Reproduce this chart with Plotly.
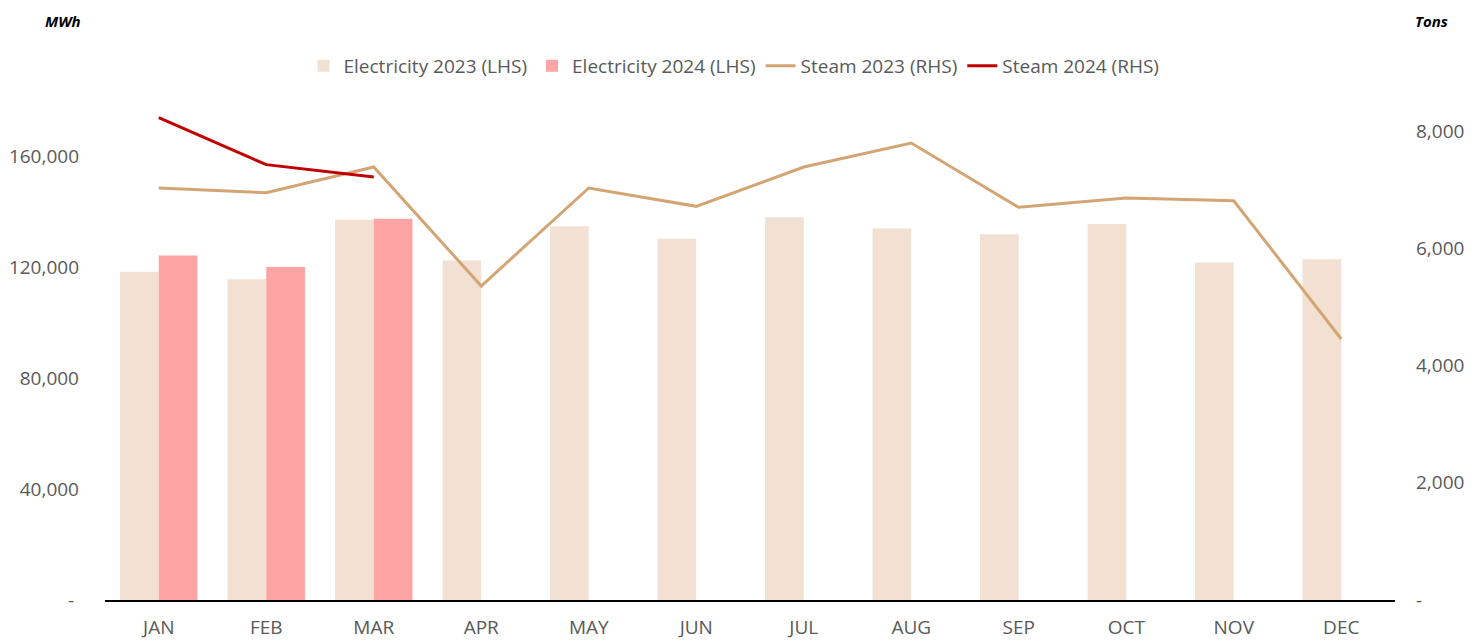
import plotly.graph_objects as go

months = ["JAN", "FEB", "MAR", "APR", "MAY", "JUN", "JUL", "AUG", "SEP", "OCT", "NOV", "DEC"]
elec_2023 = [118300, 115600, 137000, 122300, 134700, 130200, 137900, 133900, 131800, 135500, 121600, 122800]
elec_2024 = [124100, 120000, 137400]
steam_2023 = [7028, 6948, 7386, 5356, 7028, 6715, 7386, 7795, 6698, 6857, 6811, 4452]
steam_2024 = [8227, 7426, 7215]

left_ticks = [0, 40000, 80000, 120000, 160000]
left_labels = ["-\u00a0", "40,000", "80,000", "120,000", "160,000"]
right_ticks = [0, 2000, 4000, 6000, 8000]
right_labels = ["-", "2,000", "4,000", "6,000", "8,000"]

FONT = "Open Sans"
GREY = "#595959"
OFF = 8  # default page body margin
W, H = 1484 - 2 * OFF, 644 - OFF
ML, MT = 105 - OFF, 45 - OFF
MR = W - (1395 - OFF)
MB = H - (600 - OFF)
PW, PH = W - ML - MR, H - MT - MB

fig = go.Figure()
fig.add_trace(go.Bar(x=months, y=elec_2023, name="Electricity 2023 (LHS)",
                     marker=dict(color="#F2E1D3", line=dict(width=0))))
fig.add_trace(go.Bar(x=months[:len(elec_2024)], y=elec_2024, name="Electricity 2024 (LHS)",
                     marker=dict(color="#FFA4A4", line=dict(width=0))))
fig.add_trace(go.Scatter(x=months, y=steam_2023, name="Steam 2023 (RHS)", mode="lines",
                         line=dict(color="#D4A574", width=3), yaxis="y2"))
fig.add_trace(go.Scatter(x=months[:len(steam_2024)], y=steam_2024, name="Steam 2024 (RHS)", mode="lines",
                         line=dict(color="#C00000", width=3), yaxis="y2"))

fig.update_layout(
    width=W, height=H,
    margin=dict(l=ML, r=MR, t=MT, b=MB, autoexpand=False),
    plot_bgcolor="white", paper_bgcolor="white",
    font=dict(family=FONT, size=19, color=GREY),
    barmode="group", bargap=0.28, bargroupgap=0,
    showlegend=True,
    legend=dict(orientation="h", xref="container", yref="container",
                x=(734 - OFF) / W, xanchor="center", y=1 - (66 - OFF) / H, yanchor="middle",
                font=dict(family=FONT, size=19, color=GREY), traceorder="normal",
                itemwidth=30, bgcolor="rgba(0,0,0,0)"),
    xaxis=dict(type="category", showline=True, linecolor="#000000", linewidth=1.5,
               showgrid=False, ticks="", tickfont=dict(size=19, color=GREY),
               ticklabelstandoff=9, automargin=False),
    yaxis=dict(range=[0, 200000], tickvals=left_ticks, ticktext=left_labels,
               showgrid=False, zeroline=False, showline=False, ticks="",
               tickfont=dict(size=19, color=GREY), ticklabelstandoff=25, automargin=False),
    yaxis2=dict(range=[0, 9467], tickvals=right_ticks, ticktext=right_labels,
                overlaying="y", side="right", showgrid=False, zeroline=False, showline=False,
                ticks="", tickfont=dict(size=19, color=GREY), ticklabelstandoff=20, automargin=False),
    annotations=[
        dict(text="<b><i>MWh</i></b>", xref="paper", yref="paper",
             x=(63 - OFF - ML) / PW, y=(H - 1 - MB) / PH,
             xanchor="center", yanchor="top", showarrow=False,
             font=dict(family=FONT, size=15, color="#000000")),
        dict(text="<b><i>Tons</i></b>", xref="paper", yref="paper",
             x=(1431 - OFF - ML) / PW, y=(H - 1 - MB) / PH,
             xanchor="center", yanchor="top", showarrow=False,
             font=dict(family=FONT, size=15, color="#000000")),
    ],
)

fig.write_html("out.html")
